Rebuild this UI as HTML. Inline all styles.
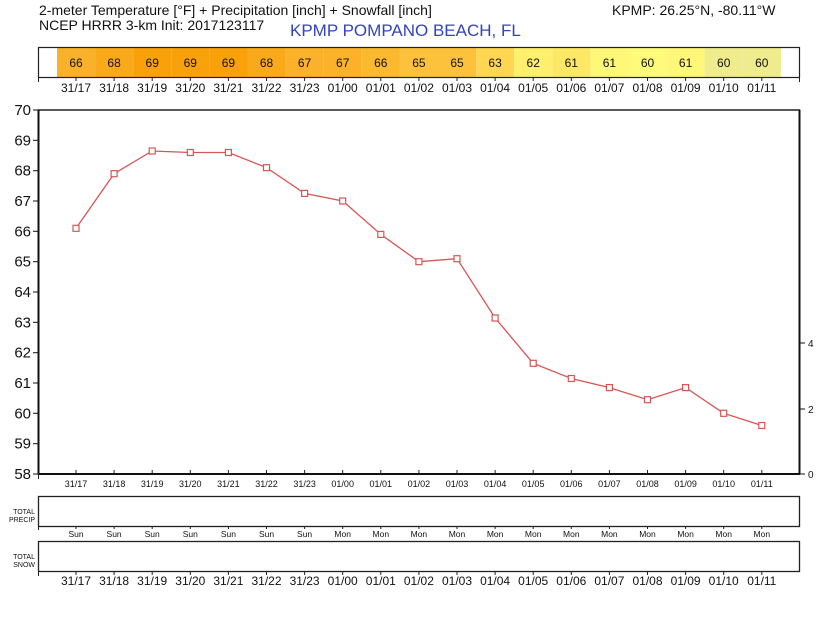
<!DOCTYPE html>
<html><head><meta charset="utf-8"><style>
body{margin:0;background:#fff;}
svg text{font-family:"Liberation Sans","DejaVu Sans",sans-serif;fill:#111;}
</style></head><body>
<svg width="839" height="630" viewBox="0 0 839 630" xmlns="http://www.w3.org/2000/svg">
<text x="39" y="15" font-size="14">2-meter Temperature [°F] + Precipitation [inch] + Snowfall [inch]</text>
<text x="39" y="30" font-size="14">NCEP HRRR 3-km Init: 2017123117</text>
<text x="290" y="36" font-size="17" style="fill:#3344bb">KPMP POMPANO BEACH, FL</text>
<text x="612" y="15" font-size="14">KPMP: 26.25°N, -80.11°W</text>
<!-- strip -->
<g>
<rect x="57" y="47" width="38.1" height="30" fill="#f9b12a"/>
<rect x="95.1" y="47" width="38.1" height="30" fill="#faa91a"/>
<rect x="133.2" y="47" width="38.1" height="30" fill="#f9a10b"/>
<rect x="171.3" y="47" width="38.1" height="30" fill="#f9a10b"/>
<rect x="209.4" y="47" width="38.1" height="30" fill="#f9a10b"/>
<rect x="247.5" y="47" width="38.1" height="30" fill="#faa91a"/>
<rect x="285.6" y="47" width="38.1" height="30" fill="#fbb22a"/>
<rect x="323.7" y="47" width="38.1" height="30" fill="#fbb22a"/>
<rect x="361.8" y="47" width="38.1" height="30" fill="#fbb92f"/>
<rect x="399.9" y="47" width="38.1" height="30" fill="#fdc23b"/>
<rect x="438" y="47" width="38.1" height="30" fill="#fdc23b"/>
<rect x="476.1" y="47" width="38.1" height="30" fill="#fed651"/>
<rect x="514.2" y="47" width="38.1" height="30" fill="#fef06c"/>
<rect x="552.3" y="47" width="38.1" height="30" fill="#fde865"/>
<rect x="590.4" y="47" width="38.1" height="30" fill="#fef778"/>
<rect x="628.5" y="47" width="38.1" height="30" fill="#fefb7a"/>
<rect x="666.6" y="47" width="38.1" height="30" fill="#fef778"/>
<rect x="704.7" y="47" width="38.1" height="30" fill="#efec8e"/>
<rect x="742.8" y="47" width="38.1" height="30" fill="#efec8e"/>
<rect x="38.5" y="47.5" width="761" height="30" fill="none" stroke="#222" stroke-width="1.2"/>
<g font-size="12" text-anchor="middle">
<text x="76" y="67">66</text><text x="114.1" y="67">68</text><text x="152.2" y="67">69</text><text x="190.3" y="67">69</text><text x="228.4" y="67">69</text><text x="266.5" y="67">68</text><text x="304.6" y="67">67</text><text x="342.7" y="67">67</text><text x="380.8" y="67">66</text><text x="418.9" y="67">65</text><text x="457" y="67">65</text><text x="495.1" y="67">63</text><text x="533.2" y="67">62</text><text x="571.3" y="67">61</text><text x="609.4" y="67">61</text><text x="647.5" y="67">60</text><text x="685.6" y="67">61</text><text x="723.7" y="67">60</text><text x="761.8" y="67">60</text>
</g>
<g font-size="12" text-anchor="middle">
<text x="76" y="92">31/17</text><text x="114.1" y="92">31/18</text><text x="152.2" y="92">31/19</text><text x="190.3" y="92">31/20</text><text x="228.4" y="92">31/21</text><text x="266.5" y="92">31/22</text><text x="304.6" y="92">31/23</text><text x="342.7" y="92">01/00</text><text x="380.8" y="92">01/01</text><text x="418.9" y="92">01/02</text><text x="457" y="92">01/03</text><text x="495.1" y="92">01/04</text><text x="533.2" y="92">01/05</text><text x="571.3" y="92">01/06</text><text x="609.4" y="92">01/07</text><text x="647.5" y="92">01/08</text><text x="685.6" y="92">01/09</text><text x="723.7" y="92">01/10</text><text x="761.8" y="92">01/11</text>
</g>
</g>
<!-- tick marks along x -->
<g stroke="#222" stroke-width="1">
<path d="M38.5 77v5M76 77v4M114.1 77v4M152.2 77v4M190.3 77v4M228.4 77v4M266.5 77v4M304.6 77v4M342.7 77v4M380.8 77v4M418.9 77v4M457 77v4M495.1 77v4M533.2 77v4M571.3 77v4M609.4 77v4M647.5 77v4M685.6 77v4M723.7 77v4M761.8 77v4M799.5 77v5"/>
<path d="M76 470v4M114.1 470v4M152.2 470v4M190.3 470v4M228.4 470v4M266.5 470v4M304.6 470v4M342.7 470v4M380.8 470v4M418.9 470v4M457 470v4M495.1 470v4M533.2 470v4M571.3 470v4M609.4 470v4M647.5 470v4M685.6 470v4M723.7 470v4M761.8 470v4M38.5 474v5"/>
<path d="M38.5 526v4M76 526v3M114.1 526v3M152.2 526v3M190.3 526v3M228.4 526v3M266.5 526v3M304.6 526v3M342.7 526v3M380.8 526v3M418.9 526v3M457 526v3M495.1 526v3M533.2 526v3M571.3 526v3M609.4 526v3M647.5 526v3M685.6 526v3M723.7 526v3M761.8 526v3"/>
<path d="M38.5 571v5M76 571v4M114.1 571v4M152.2 571v4M190.3 571v4M228.4 571v4M266.5 571v4M304.6 571v4M342.7 571v4M380.8 571v4M418.9 571v4M457 571v4M495.1 571v4M533.2 571v4M571.3 571v4M609.4 571v4M647.5 571v4M685.6 571v4M723.7 571v4M761.8 571v4"/>
</g>
<!-- main plot -->
<rect x="38.5" y="110" width="761" height="364" fill="none" stroke="#222" stroke-width="1.5"/>
<line x1="38.5" y1="110" x2="38.5" y2="474" stroke="#111" stroke-width="2"/>
<line x1="799.5" y1="110" x2="799.5" y2="474" stroke="#111" stroke-width="2"/>
<line x1="38" y1="474" x2="800" y2="474" stroke="#111" stroke-width="2"/>
<g stroke="#111" stroke-width="1">
<line x1="33" y1="110" x2="38" y2="110"/><line x1="33" y1="140.3" x2="38" y2="140.3"/><line x1="33" y1="170.7" x2="38" y2="170.7"/><line x1="33" y1="201" x2="38" y2="201"/><line x1="33" y1="231.3" x2="38" y2="231.3"/><line x1="33" y1="261.7" x2="38" y2="261.7"/><line x1="33" y1="292" x2="38" y2="292"/><line x1="33" y1="322.3" x2="38" y2="322.3"/><line x1="33" y1="352.7" x2="38" y2="352.7"/><line x1="33" y1="383" x2="38" y2="383"/><line x1="33" y1="413.3" x2="38" y2="413.3"/><line x1="33" y1="443.7" x2="38" y2="443.7"/><line x1="33" y1="474" x2="38" y2="474"/>
<line x1="800" y1="343" x2="805" y2="343"/><line x1="800" y1="409" x2="805" y2="409"/><line x1="800" y1="474" x2="805" y2="474"/>
</g>
<g font-size="15" text-anchor="end">
<text x="31" y="115">70</text><text x="31" y="145.3">69</text><text x="31" y="175.7">68</text><text x="31" y="206">67</text><text x="31" y="236.3">66</text><text x="31" y="266.7">65</text><text x="31" y="297">64</text><text x="31" y="327.3">63</text><text x="31" y="357.7">62</text><text x="31" y="388">61</text><text x="31" y="418.3">60</text><text x="31" y="448.7">59</text><text x="31" y="479">58</text>
</g>
<g font-size="10"><text x="808" y="347">4</text><text x="808" y="413">2</text><text x="808" y="478">0</text></g>
<g font-size="9" text-anchor="middle">
<text x="76" y="487">31/17</text><text x="114.1" y="487">31/18</text><text x="152.2" y="487">31/19</text><text x="190.3" y="487">31/20</text><text x="228.4" y="487">31/21</text><text x="266.5" y="487">31/22</text><text x="304.6" y="487">31/23</text><text x="342.7" y="487">01/00</text><text x="380.8" y="487">01/01</text><text x="418.9" y="487">01/02</text><text x="457" y="487">01/03</text><text x="495.1" y="487">01/04</text><text x="533.2" y="487">01/05</text><text x="571.3" y="487">01/06</text><text x="609.4" y="487">01/07</text><text x="647.5" y="487">01/08</text><text x="685.6" y="487">01/09</text><text x="723.7" y="487">01/10</text><text x="761.8" y="487">01/11</text>
</g>
<polyline fill="none" stroke="#d85555" stroke-width="1.3" points="76,228.3 114.1,173.7 152.2,151 190.3,152.5 228.4,152.5 266.5,167.7 304.6,193.4 342.7,201 380.8,234.4 418.9,261.7 457,258.7 495.1,318 533.2,363.3 571.3,378.5 609.4,387.6 647.5,399.7 685.6,387.6 723.7,413.3 761.8,425.5"/>
<g fill="#fff" stroke="#d85555" stroke-width="1.2">
<rect x="73" y="225.3" width="6" height="6"/><rect x="111.1" y="170.7" width="6" height="6"/><rect x="149.2" y="148" width="6" height="6"/><rect x="187.3" y="149.5" width="6" height="6"/><rect x="225.4" y="149.5" width="6" height="6"/><rect x="263.5" y="164.7" width="6" height="6"/><rect x="301.6" y="190.4" width="6" height="6"/><rect x="339.7" y="198" width="6" height="6"/><rect x="377.8" y="231.4" width="6" height="6"/><rect x="415.9" y="258.7" width="6" height="6"/><rect x="454" y="255.7" width="6" height="6"/><rect x="492.1" y="315" width="6" height="6"/><rect x="530.2" y="360.3" width="6" height="6"/><rect x="568.3" y="375.5" width="6" height="6"/><rect x="606.4" y="384.6" width="6" height="6"/><rect x="644.5" y="396.7" width="6" height="6"/><rect x="682.6" y="384.6" width="6" height="6"/><rect x="720.7" y="410.3" width="6" height="6"/><rect x="758.8" y="422.5" width="6" height="6"/>
</g>
<!-- precip -->
<rect x="38.5" y="496.5" width="761" height="30" fill="none" stroke="#222" stroke-width="1.3"/>
<g font-size="7" text-anchor="end"><text x="35" y="514">TOTAL</text><text x="35" y="522">PRECIP</text></g>
<g font-size="8.5" text-anchor="middle">
<text x="76" y="537">Sun</text><text x="114.1" y="537">Sun</text><text x="152.2" y="537">Sun</text><text x="190.3" y="537">Sun</text><text x="228.4" y="537">Sun</text><text x="266.5" y="537">Sun</text><text x="304.6" y="537">Sun</text><text x="342.7" y="537">Mon</text><text x="380.8" y="537">Mon</text><text x="418.9" y="537">Mon</text><text x="457" y="537">Mon</text><text x="495.1" y="537">Mon</text><text x="533.2" y="537">Mon</text><text x="571.3" y="537">Mon</text><text x="609.4" y="537">Mon</text><text x="647.5" y="537">Mon</text><text x="685.6" y="537">Mon</text><text x="723.7" y="537">Mon</text><text x="761.8" y="537">Mon</text>
</g>
<!-- snow -->
<rect x="38.5" y="541.5" width="761" height="30" fill="none" stroke="#222" stroke-width="1.3"/>
<g font-size="7" text-anchor="end"><text x="35" y="559">TOTAL</text><text x="35" y="567">SNOW</text></g>
<g font-size="12" text-anchor="middle">
<text x="76" y="585">31/17</text><text x="114.1" y="585">31/18</text><text x="152.2" y="585">31/19</text><text x="190.3" y="585">31/20</text><text x="228.4" y="585">31/21</text><text x="266.5" y="585">31/22</text><text x="304.6" y="585">31/23</text><text x="342.7" y="585">01/00</text><text x="380.8" y="585">01/01</text><text x="418.9" y="585">01/02</text><text x="457" y="585">01/03</text><text x="495.1" y="585">01/04</text><text x="533.2" y="585">01/05</text><text x="571.3" y="585">01/06</text><text x="609.4" y="585">01/07</text><text x="647.5" y="585">01/08</text><text x="685.6" y="585">01/09</text><text x="723.7" y="585">01/10</text><text x="761.8" y="585">01/11</text>
</g>
</svg>
</body></html>
